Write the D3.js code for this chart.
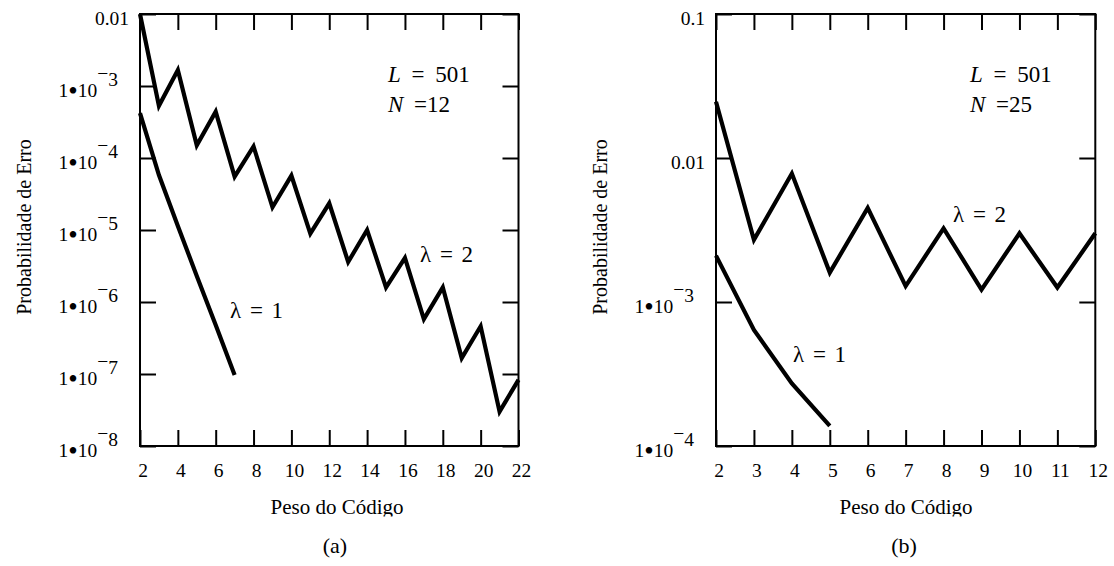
<!DOCTYPE html>
<html>
<head>
<meta charset="utf-8">
<script src="https://cdn.jsdelivr.net/npm/d3@7/dist/d3.min.js"></script>
<style>
  body { margin: 0; background: #fff; }
  svg text { font-family: "Liberation Serif", "Times New Roman", Times, serif; fill: #000; }
</style>
</head>
<body>
<div id="chart"></div>
<script>
// Data - panel (a): L = 501, N = 12
const weightsA = [2, 3, 4, 5, 6, 7, 8, 9, 10, 11, 12, 13, 14, 15, 16, 17, 18, 19, 20, 21, 22];
const lambda2A = [1.0e-2, 5.3e-4, 1.67e-3, 1.5e-4, 4.4e-4, 5.5e-5, 1.45e-4, 2.07e-5, 5.7e-5, 8.9e-6, 2.35e-5,
  3.6e-6, 1.0e-5, 1.6e-6, 4.1e-6, 5.8e-7, 1.6e-6, 1.66e-7, 4.6e-7, 3.0e-8, 8.3e-8];
const weightsA1 = [2, 3, 4, 5, 6, 7];
const lambda1A = [4.2e-4, 5.8e-5, 1.14e-5, 2.3e-6, 4.8e-7, 9.7e-8];
const xTicksA = [2, 4, 6, 8, 10, 12, 14, 16, 18, 20, 22];
const yTicksA = [1e-2, 1e-3, 1e-4, 1e-5, 1e-6, 1e-7, 1e-8];
const yLabelsA = ['0.01', '1•10^-3', '1•10^-4', '1•10^-5', '1•10^-6', '1•10^-7', '1•10^-8'];

// Data - panel (b): L = 501, N = 25
const weightsB = [2, 3, 4, 5, 6, 7, 8, 9, 10, 11, 12];
const lambda2B = [2.46e-2, 2.7e-3, 7.8e-3, 1.6e-3, 4.5e-3, 1.29e-3, 3.25e-3, 1.22e-3, 3.0e-3, 1.26e-3, 3.0e-3];
const weightsB1 = [2, 3, 4, 5];
const lambda1B = [2.1e-3, 6.4e-4, 2.72e-4, 1.38e-4];
const xTicksB = [2, 3, 4, 5, 6, 7, 8, 9, 10, 11, 12];
const yTicksB = [1e-1, 1e-2, 1e-3, 1e-4];
const yLabelsB = ['0.1', '0.01', '1•10^-3', '1•10^-4'];

const svg = d3
  .select('#chart')
  .append('svg')
  .attr('width', 1114)
  .attr('height', 566);

// the x title is cut at the bottom in the original
svg
  .append('clipPath')
  .attr('id', 'xtitle-clip')
  .append('rect')
  .attr('x', 0)
  .attr('y', 0)
  .attr('width', 1114)
  .attr('height', 516.5);

function drawPanel(p) {
  const x = d3.scaleLinear().domain(p.xDomain).range([p.left, p.right]);
  const y = d3.scaleLog().domain(p.yDomain).range([p.bottom, p.top]);
  const g = svg.append('g');

  const tickStyle = (sel) => {
    sel.select('.domain').remove();
    sel.selectAll('line').attr('stroke', '#000').attr('stroke-width', 2);
  };

  // inward ticks on all four sides
  g.append('g')
    .attr('transform', `translate(0,${p.top})`)
    .call(d3.axisTop(x).tickValues(p.xTicks).tickSizeInner(-16).tickSizeOuter(0).tickFormat(''))
    .call(tickStyle);
  g.append('g')
    .attr('transform', `translate(0,${p.bottom})`)
    .call(d3.axisBottom(x).tickValues(p.xTicks).tickSizeInner(-16).tickSizeOuter(0).tickFormat(''))
    .call(tickStyle);
  g.append('g')
    .attr('transform', `translate(${p.left},0)`)
    .call(d3.axisLeft(y).tickValues(p.yTicks).tickSizeInner(-16).tickSizeOuter(0).tickFormat(''))
    .call(tickStyle);
  g.append('g')
    .attr('transform', `translate(${p.right},0)`)
    .call(d3.axisRight(y).tickValues(p.yTicks).tickSizeInner(-16).tickSizeOuter(0).tickFormat(''))
    .call(tickStyle);

  // frame
  g.append('rect')
    .attr('x', p.left)
    .attr('y', p.top)
    .attr('width', p.right - p.left)
    .attr('height', p.bottom - p.top)
    .attr('fill', 'none')
    .attr('stroke', '#000')
    .attr('stroke-width', 2);

  // x tick labels
  g.selectAll('.xlab')
    .data(p.xTicks)
    .join('text')
    .attr('x', (d) => x(d) + 3)
    .attr('y', p.bottom + 31)
    .attr('text-anchor', 'middle')
    .attr('font-size', 19.5)
    .text((d) => d);

  // y tick labels, 1•10 with raised exponent
  g.selectAll('.ylab')
    .data(p.yTicks)
    .join('text')
    .attr('y', (d) => y(d) + 11)
    .attr('text-anchor', 'end')
    .attr('font-size', 19.5)
    .each(function (d, i) {
      const [base, exp] = p.yLabels[i].split('^');
      const t = d3.select(this);
      if (!exp) {
        t.attr('x', p.left - 11).text(base);
        return;
      }
      const [one, ten] = base.split('•');
      t.attr('x', p.left - 22);
      t.append('tspan').text(one);
      t.append('tspan').attr('font-size', 27).attr('dy', 2.5).text('•');
      t.append('tspan').attr('dy', -2.5).text(ten);
      t.append('tspan').attr('dy', -17).text('\u2212');
      t.append('tspan').attr('dy', 6).text(exp.replace('-', ''));
    });

  // curves
  const line = d3
    .line()
    .x((d) => x(d[0]))
    .y((d) => y(d[1]));

  p.series.forEach((s) => {
    g.append('path')
      .datum(d3.zip(s.x, s.y))
      .attr('d', line)
      .attr('fill', 'none')
      .attr('stroke', '#000')
      .attr('stroke-width', 4.2)
      .attr('stroke-linejoin', 'miter');

    g.append('text')
      .attr('x', s.labelX)
      .attr('y', s.labelY)
      .attr('font-size', 23)
      .style('word-spacing', '3px')
      .text(s.label);
  });

  // parameters
  const params = g.append('g').attr('font-size', 23);
  p.params.forEach((par, i) => {
    const t = params
      .append('text')
      .attr('x', p.paramX)
      .attr('y', 82 + i * 30)
      .style('word-spacing', '5px');
    t.append('tspan').attr('font-style', 'italic').text(par[0]);
    t.append('tspan').text(par[1]);
  });

  // axis titles
  g.append('text')
    .attr('transform', `translate(${p.left - 109},227) rotate(-90)`)
    .attr('text-anchor', 'middle')
    .attr('font-size', 20)
    .text('Probabilidade de Erro');

  g.append('text')
    .attr('x', p.titleX)
    .attr('y', 514)
    .attr('text-anchor', 'middle')
    .attr('font-size', 21)
    .attr('clip-path', 'url(#xtitle-clip)')
    .text('Peso do Código');

  g.append('text')
    .attr('x', p.titleX - 2)
    .attr('y', 553)
    .attr('text-anchor', 'middle')
    .attr('font-size', 22)
    .text(p.caption);
}

drawPanel({
  left: 140,
  right: 518.5,
  top: 14,
  bottom: 446,
  xDomain: [2, 22],
  yDomain: [1e-8, 1e-2],
  xTicks: xTicksA,
  yTicks: yTicksA,
  yLabels: yLabelsA,
  series: [
    { x: weightsA, y: lambda2A, label: 'λ = 2', labelX: 420, labelY: 262 },
    { x: weightsA1, y: lambda1A, label: 'λ = 1', labelX: 230, labelY: 318 },
  ],
  params: [['L', ' = 501'], ['N', ' =12']],
  paramX: 388,
  titleX: 337,
  caption: '(a)',
});

drawPanel({
  left: 716,
  right: 1095.3,
  top: 14,
  bottom: 446,
  xDomain: [2, 12],
  yDomain: [1e-4, 1e-1],
  xTicks: xTicksB,
  yTicks: yTicksB,
  yLabels: yLabelsB,
  series: [
    { x: weightsB, y: lambda2B, label: 'λ = 2', labelX: 953, labelY: 222 },
    { x: weightsB1, y: lambda1B, label: 'λ = 1', labelX: 793, labelY: 362 },
  ],
  params: [['L', ' = 501'], ['N', ' =25']],
  paramX: 970,
  titleX: 906,
  caption: '(b)',
});
</script>
</body>
</html>
